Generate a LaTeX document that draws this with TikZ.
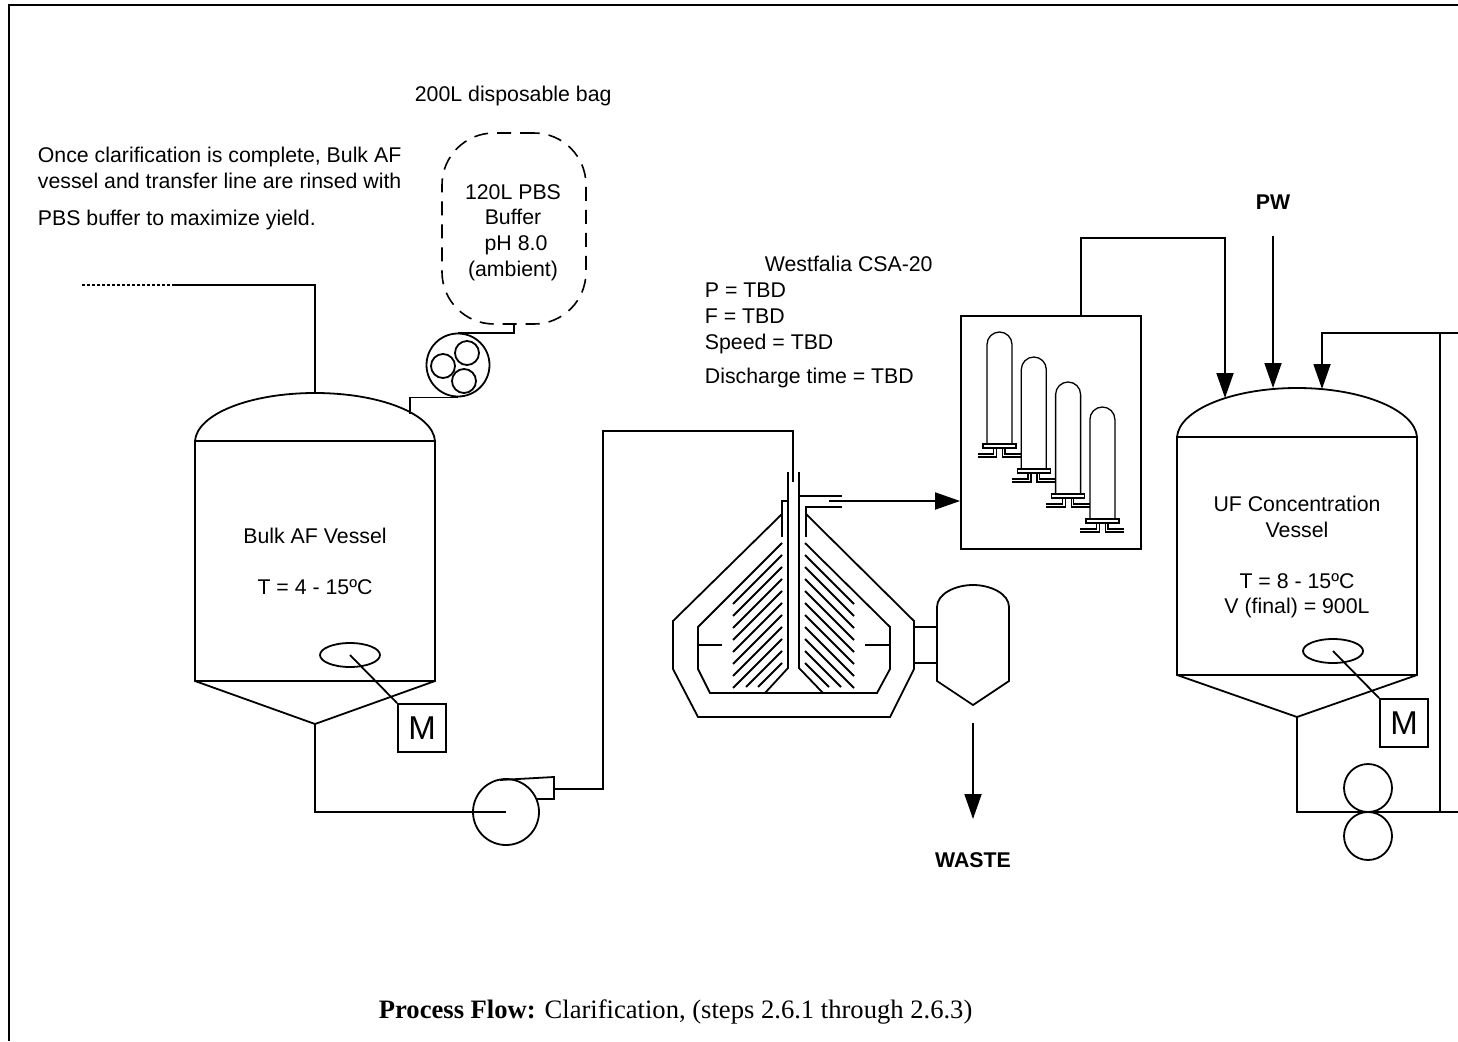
\documentclass[tikz,border=0pt]{standalone}
\usepackage{fontspec}
\setmainfont{Liberation Sans}
\newfontfamily\capfont{Liberation Serif}
\usetikzlibrary{arrows.meta,positioning,calc,shapes.geometric}

\begin{document}
\begin{tikzpicture}[
    x=1pt, y=-1pt,
    line width=1.8pt,
    lbl/.style={font=\fontsize{21.3}{24}\selectfont, inner sep=0pt, anchor=base west},
    ctr/.style={font=\fontsize{21.3}{24}\selectfont, inner sep=0pt, anchor=base},
    disc/.style={draw, circle, inner sep=0pt, minimum size=#1},
    motorbox/.style={draw, rectangle, inner sep=0pt, minimum size=48pt, font=\fontsize{33}{33}\selectfont},
    mixer/.style={draw, ellipse, inner sep=0pt, minimum width=60pt, minimum height=24pt},
    line/.style={-{Triangle[length=25pt,width=17pt]}},
    thin pipe/.style={line width=1.3pt}
]
    \useasboundingbox (0,0) rectangle (1458,1041);
    % frame
    \coordinate (framea) at (8.5,1041);
    \coordinate (frameb) at (8.5,5.5);
    \coordinate (framec) at (1458,5.5);
    \draw[line width=2pt] (framea) -- (frameb) -- (framec);

    % notes
    \node[lbl] (bagnote) at (414,101) {200L disposable bag};
    \node[lbl] (noteone) at (37,162) {Once clarification is complete, Bulk AF};
    \node[lbl] (notetwo) at (37,188) {vessel and transfer line are rinsed with};
    \node[lbl] (notethree) at (37,225) {PBS buffer to maximize yield.};
    \node[lbl] (cfname) at (764,271) {Westfalia CSA-20};
    \node[lbl] (cfp) at (704,297) {P = TBD};
    \node[lbl] (cff) at (704,323) {F = TBD};
    \node[lbl] (cfs) at (704,349) {Speed = TBD};
    \node[lbl] (cfd) at (704,383) {Discharge time = TBD};
    \node[ctr, font=\fontsize{21.3}{24}\selectfont\bfseries] (pwlabel) at (1273,209) {PW};
    \node[ctr, font=\fontsize{21.3}{24}\selectfont\bfseries] (wastelabel) at (973,867) {WASTE};
    \node[lbl, font=\fontsize{26.6}{30}\capfont] (caption) at (378,1018.5) {\textbf{Process Flow:} Clarification, (steps 2.6.1 through 2.6.3)};

    % buffer bag and pump
    \node[draw, dashed, dash pattern=on 14pt off 9pt, line width=1.6pt, rounded corners=52pt, minimum width=144pt, minimum height=191pt, inner sep=0pt] (bag) at (514,228.5) {};
    \node[ctr] (bagone) at (513,199) {120L PBS};
    \node[ctr] (bagtwo) at (513,224) {Buffer};
    \node[ctr] (bagthree) at (516,250) {pH 8.0};
    \node[ctr] (bagfour) at (513,276) {(ambient)};
    \node[disc=63pt] (perist) at (458,365) {};
    \node[disc=24pt] (rollera) at (467,353) {};
    \node[disc=24pt] (rollerb) at (443,366) {};
    \node[disc=24pt] (rollerc) at (464,381) {};

    % bulk vessel
    \coordinate (bulkl) at (195,441);
    \coordinate (bulkr) at (435,441);
    \coordinate (bulktop) at (315,393);
    \coordinate (bulkapex) at (315,724);
    \coordinate (bulkin) at (410,414);
    \draw (bulkl) .. controls (197,414) and (250,393) .. (bulktop) .. controls (380,393) and (433,414) .. (bulkr) -- cycle;
    \draw (bulkl) -- (195,681) -- (bulkapex) -- (435,681) -- (bulkr);
    \draw (195,681) -- (435,681);
    \node[ctr] (bulkname) at (315,543) {Bulk AF Vessel};
    \node[ctr] (bulktemp) at (315,594) {T = 4 - 15ºC};
    \node[mixer] (mixbulk) at (350,655) {};
    \node[motorbox] (mbulk) at (422,728) {M};

    % transfer pump
    \node[disc=66pt] (pump) at (506,812) {};
    \coordinate (pumpout) at (554,789);
    \draw (500,780) -- (554,777) -- (554,799) -- (537,799);

    % centrifuge
    \draw (782,514) -- (673,621) -- (673,669) -- (698,717) -- (890,717) -- (914,669) -- (914,621) -- (806,514);
    \draw (782,543) -- (698,627) -- (698,669) -- (710,693) -- (877,693) -- (890,669) -- (890,627) -- (805,543);
    \draw (788,472) -- (788,668) -- (765,693);
    \draw (799,472) -- (799,668) -- (823,693);
    \draw (782,537) -- (782,501) -- (788,501);
    \draw (806,537) -- (806,507) -- (842,507);
    \draw (799,496) -- (842,496);
    \draw (698,645) -- (722,645);
    \draw (865,645) -- (890,645);
    \foreach \yy in {555,567,...,639} {
        \draw (782,\yy) -- (733,\yy+49);
        \draw (805,\yy) -- (854,\yy+49);
    }
    \draw (782,651) -- (746,687);
    \draw (782,663) -- (758,687);
    \draw (805,651) -- (841,687);
    \draw (805,663) -- (829,687);
    \coordinate (cfin) at (793,482);
    \coordinate (cfout) at (829,501);
    \coordinate (feedup) at (603,431);

    % motor
    \draw (937,607) .. controls (937,594) and (955,585) .. (973,585) .. controls (991,585) and (1009,594) .. (1009,607) -- (1009,681) -- (973,705) -- (937,681) -- cycle;
    \draw (914,627) -- (937,627);
    \draw (914,663) -- (937,663);
    \coordinate (wastestart) at (973,723);
    \coordinate (wasteend) at (973,819);

    % filter train
    \node[draw, minimum width=180pt, minimum height=233pt, inner sep=0pt] (filterbox) at (1051,432.5) {};
    \foreach \i in {0,1,2,3} {
        \begin{scope}[shift={(34.3*\i,25*\i)}]
            \draw[thin pipe] (987,444) -- (987,344.5) arc[start angle=180, end angle=360, radius=12.5] -- (1012,444);
            \draw[thin pipe] (983,444) rectangle (1016,448);
            \draw[thin pipe] (993.7,448) -- (993.7,454) -- (977.5,454);
            \draw[thin pipe] (996.7,448) -- (996.7,457) -- (977.5,457);
            \draw[thin pipe] (1002.7,448) -- (1002.7,457) -- (1021,457);
            \draw[thin pipe] (1005,448) -- (1005,454) -- (1021,454);
        \end{scope}
    }
    \coordinate (filtertop) at (1081,316);
    \coordinate (filterbend) at (1225,238);
    \coordinate (ufleft) at (1225,398);
    \coordinate (pwstart) at (1273,236);
    \coordinate (ufmid) at (1273,388);
    \coordinate (retbend) at (1440,333);
    \coordinate (retend) at (1458,333);
    \coordinate (ufright) at (1322,389);
    \coordinate (retlow) at (1440,812);
    \coordinate (loopend) at (1458,812);

    % UF vessel
    \coordinate (ufl) at (1177,437);
    \coordinate (ufr) at (1417,437);
    \coordinate (uftop) at (1297,388);
    \coordinate (ufapex) at (1297,717);
    \draw (ufl) .. controls (1179,410) and (1232,388) .. (uftop) .. controls (1362,388) and (1415,410) .. (ufr) -- cycle;
    \draw (ufl) -- (1177,675) -- (ufapex) -- (1417,675) -- (ufr);
    \draw (1177,675) -- (1417,675);
    \node[ctr] (ufnameone) at (1297,511) {UF Concentration};
    \node[ctr] (ufnametwo) at (1297,537) {Vessel};
    \node[ctr] (uftemp) at (1297,588) {T = 8 - 15ºC};
    \node[ctr] (ufvol) at (1297,613) {V (final) = 900L};
    \node[mixer] (mixuf) at (1333,651) {};
    \node[motorbox] (muf) at (1404,723) {M};
    \node[disc=48pt] (loopa) at (1368,788) {};
    \node[disc=48pt] (loopb) at (1368,836) {};

    % lines
    \coordinate (feeddot) at (82,285);
    \coordinate (feedsolid) at (174,285);
    \draw[dash pattern=on 3pt off 2pt, line width=1.2pt] (feeddot) -- (feedsolid);
    \draw (feedsolid) -| (bulktop);
    \draw (bag.south) |- (perist.north);
    \draw (perist.south) -| (bulkin);
    \draw (mixbulk.center) -- (mbulk.north west);
    \draw (mixuf.center) -- (muf.north west);
    \draw (bulkapex) |- (pump.center);
    \draw (pumpout) -| (feedup) -| (cfin);
    \draw[line] (cfout) -- (cfout -| filterbox.west);
    \draw[line] (wastestart) -- (wasteend);
    \draw[line] (filtertop) |- (filterbend) -- (ufleft);
    \draw[line] (pwstart) -- (ufmid);
    \draw[line] (retend) -- (ufright |- retend) -- (ufright);
    \draw (retlow) -- (retbend);
    \draw (ufapex) |- (loopend);
\end{tikzpicture}
\end{document}
